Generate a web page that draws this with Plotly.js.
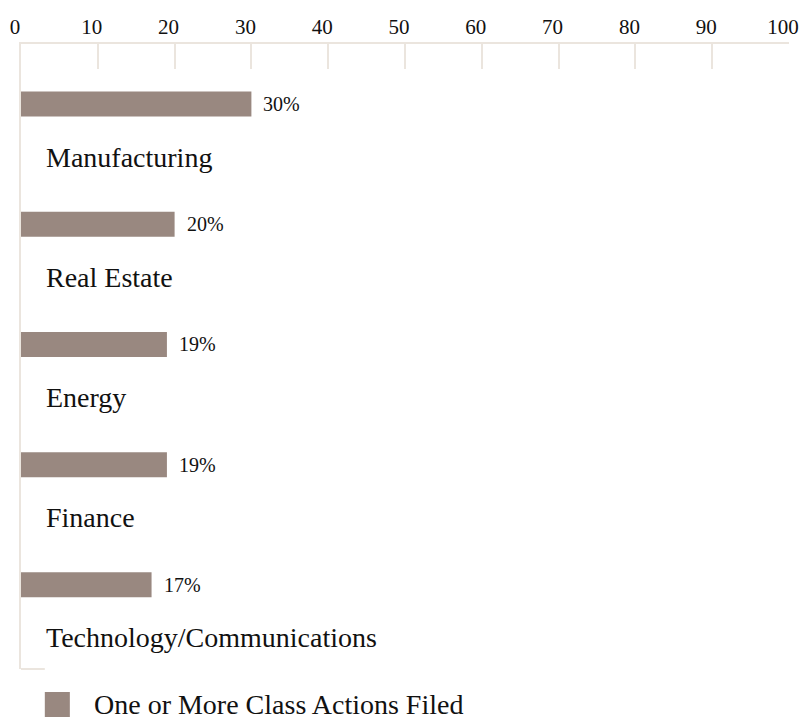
<!DOCTYPE html>
<html>
<head>
<meta charset="utf-8">
<script src="https://cdn.plot.ly/plotly-3.0.1.min.js"></script>
<style>html,body{margin:0;padding:0;background:#fff;}#chart{width:811px;height:720px;}</style>
</head>
<body>
<div id="chart"></div>
<script>
const categories = ["Manufacturing", "Real Estate", "Energy", "Finance", "Technology/Communications"];
const values = [30, 20, 19, 19, 17];
const valueLabels = ["30%", "20%", "19%", "19%", "17%"];
const seriesName = "One or More Class Actions Filed";
const xTicks = [0, 10, 20, 30, 40, 50, 60, 70, 80, 90, 100];

const FONT = "Liberation Serif, Times New Roman, serif";
const AXIS_COLOR = "#ebe5de";
const BAR_COLOR = "#998880";
const TEXT_COLOR = "#111111";

const trace = {
  type: "bar",
  orientation: "h",
  x: values,
  y: categories,
  name: seriesName,
  width: 0.208,
  marker: {color: BAR_COLOR},
  showlegend: false,
  hoverinfo: "x+y"
};

const annotations = [];
categories.forEach((c, i) => {
  annotations.push({
    x: values[i], y: c, xref: "x", yref: "y",
    text: valueLabels[i], showarrow: false,
    xanchor: "left", yanchor: "middle", xshift: 10,
    font: {family: FONT, size: 20, color: TEXT_COLOR}
  });
  annotations.push({
    x: 0, y: c, xref: "x", yref: "y",
    text: c, showarrow: false,
    xanchor: "left", yanchor: "middle", xshift: 23, yshift: -53,
    font: {family: FONT, size: 28, color: TEXT_COLOR}
  });
});
annotations.push({
  x: 0, y: 0, xref: "paper", yref: "paper",
  text: seriesName, showarrow: false,
  xanchor: "left", yanchor: "middle", xshift: 71, yshift: -35,
  font: {family: FONT, size: 28, color: TEXT_COLOR}
});

const layout = {
  width: 811, height: 720,
  margin: {l: 21, r: 22, t: 44, b: 51},
  paper_bgcolor: "#ffffff",
  plot_bgcolor: "#ffffff",
  font: {family: FONT, color: TEXT_COLOR},
  xaxis: {
    side: "top",
    range: [0, 100],
    tickvals: xTicks,
    ticktext: xTicks.map(String),
    ticks: "inside",
    ticklen: 25,
    tickwidth: 2,
    tickcolor: AXIS_COLOR,
    showline: true,
    linecolor: AXIS_COLOR,
    linewidth: 2,
    showgrid: false,
    zeroline: false,
    ticklabelshift: -6,
    tickfont: {family: FONT, size: 21, color: TEXT_COLOR},
    fixedrange: true
  },
  yaxis: {
    type: "category",
    categoryorder: "array",
    categoryarray: categories,
    range: [4.7, -0.5],
    showticklabels: false,
    ticks: "",
    showline: true,
    linecolor: AXIS_COLOR,
    linewidth: 2,
    showgrid: false,
    zeroline: false,
    fixedrange: true
  },
  shapes: [
    {type: "line", xref: "paper", yref: "paper", x0: 0, x1: 0.031, y0: 0, y1: 0,
     line: {color: AXIS_COLOR, width: 2}},
    {type: "rect", xref: "paper", yref: "paper", x0: 0.031, x1: 0.0636, y0: 0, y1: 0,
     ysizemode: "pixel", yanchor: 0, y0: -23, y1: -48,
     fillcolor: BAR_COLOR, line: {width: 0}}
  ],
  annotations: annotations
};

Plotly.newPlot("chart", [trace], layout, {displayModeBar: false, staticPlot: true});
</script>
</body>
</html>
